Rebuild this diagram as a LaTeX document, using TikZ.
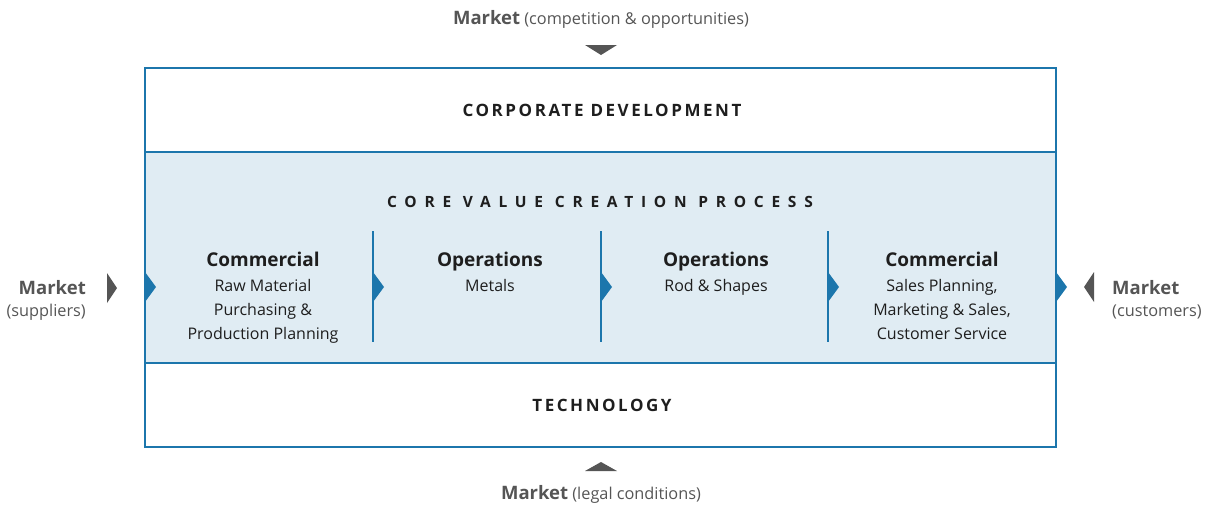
\documentclass[tikz,border=0pt]{standalone}
\usepackage{fontspec}
\setmainfont{Open Sans}
\usetikzlibrary{positioning}

\definecolor{lineblue}{HTML}{1C76AC}
\definecolor{corefill}{HTML}{E0ECF3}
\definecolor{markgrey}{HTML}{555555}
\definecolor{textdark}{HTML}{1E1E1E}

\newcommand{\markname}[1]{{\fontsize{18.5}{22}\selectfont\bfseries #1}}

\tikzset{
  frame/.style={draw=lineblue, line width=1.6pt},
  flowtip/.style={fill=lineblue},
  marktip/.style={fill=markgrey},
  bandtitle/.style={font=\fontsize{17}{20}\selectfont\bfseries\addfontfeature{LetterSpace=15}},
  coretitle/.style={font=\fontsize{15.5}{18}\selectfont\bfseries\addfontfeature{LetterSpace=50}},
  stephead/.style={font=\fontsize{19}{22}\selectfont\bfseries, text depth=0pt},
  stepbody/.style={align=center, font=\fontsize{16}{24}\selectfont},
  market/.style={text=markgrey, font=\fontsize{16.3}{22}\selectfont},
}

\begin{document}
\begin{tikzpicture}[
          x=1pt, y=-1pt,
          every node/.style={inner sep=0pt, text=textdark},
          node distance=13pt
        ]
        \useasboundingbox (0,0) rectangle (1217,504);

        % Core band and frame
        \fill[corefill] (145,152) rectangle (1056,363);
        \draw[frame] (145,68) rectangle (1056,447);
        \draw[frame] (145,152) -- (1056,152);
        \draw[frame] (145,363) -- (1056,363);

        % Band titles
        \node[bandtitle] (corp) at (602,110) {CORPORATE DEVELOPMENT};
        \node[coretitle] (core) at (600,202) {CORE VALUE CREATION PROCESS};
        \node[bandtitle] (tech) at (602,405) {TECHNOLOGY};

        % Step dividers and flow tips
        \foreach \x in {373,601,828}
          \draw[frame] (\x,231) -- (\x,342);
        \foreach \x in {145,373,601,828,1056}
          \fill[flowtip] (\x,272) -- ++(11,15) -- ++(-11,15) -- cycle;

        % Steps
        \node[stephead, anchor=base] (h1) at (263,266) {Commercial};
        \node[stephead, anchor=base] (h2) at (490,266) {Operations};
        \node[stephead, anchor=base] (h3) at (716,266) {Operations};
        \node[stephead, anchor=base] (h4) at (942,266) {Commercial};

        \node[stepbody, below=of h1] (b1) {Raw Material\\Purchasing \&\\Production Planning};
        \node[stepbody, below=of h2] (b2) {Metals};
        \node[stepbody, below=of h3] (b3) {Rod \& Shapes};
        \node[stepbody, below=of h4] (b4) {Sales Planning,\\Marketing \& Sales,\\Customer Service};

        % Markets around the frame
        \node[market, anchor=base] (mtop) at (601,24) {\markname{Market} (competition \& opportunities)};
        \node[market, anchor=base] (mbot) at (601,499) {\markname{Market} (legal conditions)};
        \node[market, align=right, anchor=north east] (mleft) at (86,280) {\markname{Market}\\(suppliers)};
        \node[market, align=left, anchor=north west] (mright) at (1112,280) {\markname{Market}\\(customers)};

        \fill[marktip] (585,45) -- (617,45) -- (601,55) -- cycle;
        \fill[marktip] (585,471) -- (617,471) -- (601,462) -- cycle;
        \fill[marktip] (107,273) -- (117,288) -- (107,303) -- cycle;
        \fill[marktip] (1094,272) -- (1084,287) -- (1094,302) -- cycle;

      \end{tikzpicture}
\end{document}
